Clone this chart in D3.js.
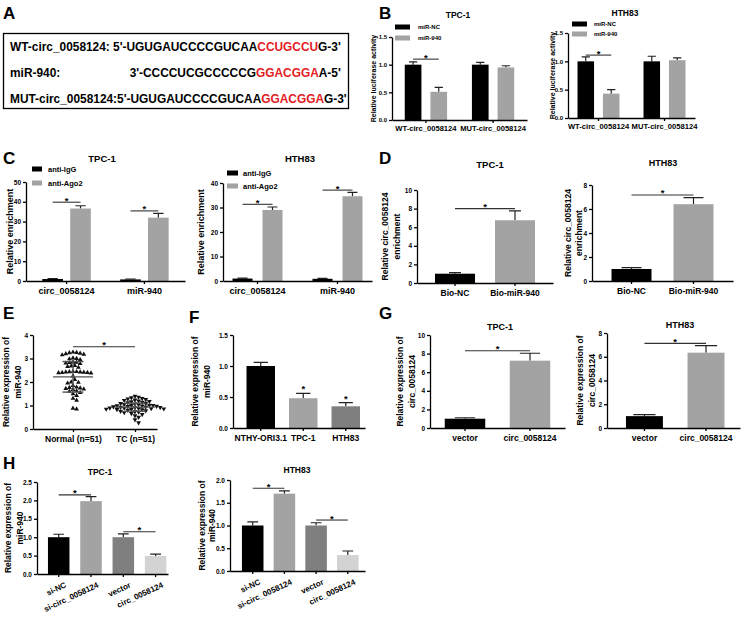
<!DOCTYPE html>
<html><head><meta charset="utf-8">
<script src="https://cdn.jsdelivr.net/npm/d3@7"></script>
<style>
body{margin:0;background:#fff}
svg text{font-family:"Liberation Sans",Arial,sans-serif;font-weight:bold}
</style>
</head><body>
<svg id="c" width="753" height="622"></svg>
<script>
// ================= DATA =================
// Panel A sequences (black / red / black)
const A_WT  = ["WT-circ_0058124: 5'-UGUGAUCCCCGUCAA", "CCUGCCU", "G-3'"];
const A_MIR_NAME = "miR-940:";
const A_MIR = ["3'-CCCCUCGCCCCCG", "GGACGGA", "A-5'"];
const A_MUT = ["MUT-circ_0058124:5'-UGUGAUCCCCGUCAA", "GGACGGA", "G-3'"];

// Panel B
const B_groups = ["WT-circ_0058124", "MUT-circ_0058124"];
const B_series = ["miR-NC", "miR-940"];
const B_TPC1_mean  = [[1.00, 0.51], [1.00, 0.95]];
const B_TPC1_err   = [[0.05, 0.08], [0.04, 0.03]];
const B_HTH83_mean = [[1.00, 0.43], [1.00, 1.02]];
const B_HTH83_err  = [[0.08, 0.07], [0.09, 0.04]];
const B_ticks = [0, 0.5, 1.0, 1.5];
const B_sig = [1.10, 1.11];

// Panel C
const C_groups = ["circ_0058124", "miR-940"];
const C_series = ["anti-IgG", "anti-Ago2"];
const C_TPC1_mean  = [[1.0, 36.6], [0.8, 32.0]];
const C_TPC1_err   = [[0.2, 1.4], [0.2, 2.2]];
const C_HTH83_mean = [[1.0, 29.0], [0.9, 34.6]];
const C_HTH83_err  = [[0.2, 1.2], [0.2, 1.6]];
const C_TPC1_ticks  = [0, 10, 20, 30, 40, 50];
const C_HTH83_ticks = [0, 10, 20, 30, 40];
const C_TPC1_sig  = [39.8, 35.4];
const C_HTH83_sig = [31.3, 37.1];

// Panel D
const D_groups = ["Bio-NC", "Bio-miR-940"];
const D_TPC1_mean  = [1.0, 6.75];
const D_TPC1_err   = [0.12, 1.0];
const D_HTH83_mean = [1.0, 6.4];
const D_HTH83_err  = [0.12, 0.55];
const D_TPC1_ticks  = [0, 2, 4, 6, 8, 10];
const D_HTH83_ticks = [0, 2, 4, 6, 8];
const D_sig = [8.0, 7.17];

// Panel E (individual samples, n=51 each)
const E_groups = ["Normal (n=51)", "TC (n=51)"];
const E_normal = [3.27,3.25,3.24,3.22,3.20,3.18,3.15,3.02,3.00,2.98,2.95,2.85,2.84,2.82,2.80,2.78,
  2.70,2.68,2.66,2.62,2.45,2.44,2.43,2.42,2.42,2.41,2.40,2.40,2.39,2.38,2.25,2.10,2.00,1.98,1.95,
  1.85,1.78,1.76,1.74,1.72,1.70,1.68,1.62,1.60,1.55,1.50,1.42,1.30,1.22,0.88,0.85];
const E_tc = [1.40,1.36,1.33,1.30,1.28,1.26,1.24,1.22,1.20,1.18,1.16,1.14,1.12,1.10,1.09,1.07,1.05,
  1.04,1.02,1.01,1.00,0.99,0.98,0.97,0.96,0.95,0.94,0.93,0.92,0.91,0.90,0.89,0.88,0.87,0.86,0.85,
  0.84,0.83,0.82,0.80,0.78,0.76,0.74,0.72,0.70,0.66,0.62,0.57,0.50,0.40,0.27];
const E_mean = [2.22, 0.93];
const E_sd   = [0.65, 0.17];
const E_ticks = [0, 1, 2, 3, 4];
const E_sig = 3.5;

// Panel F
const F_groups = ["NTHY-ORI3.1", "TPC-1", "HTH83"];
const F_mean = [1.0, 0.48, 0.35];
const F_err  = [0.06, 0.08, 0.06];
const F_star = [false, true, true];
const F_ticks = [0, 0.5, 1.0, 1.5];

// Panel G
const G_groups = ["vector", "circ_0058124"];
const G_TPC1_mean  = [1.0, 7.24];
const G_TPC1_err   = [0.1, 0.8];
const G_HTH83_mean = [1.0, 6.34];
const G_HTH83_err  = [0.12, 0.6];
const G_TPC1_ticks  = [0, 2, 4, 6, 8, 10];
const G_HTH83_ticks = [0, 2, 4, 6, 8];
const G_sig = [8.3, 7.13];

// Panel H
const H_groups = ["si-NC", "si-circ_0058124", "vector", "circ_0058124"];
const H_TPC1_mean  = [1.0, 1.98, 1.0, 0.49];
const H_TPC1_err   = [0.08, 0.12, 0.09, 0.05];
const H_HTH83_mean = [1.0, 1.70, 1.0, 0.35];
const H_HTH83_err  = [0.08, 0.06, 0.06, 0.09];
const H_TPC1_ticks  = [0, 0.5, 1.0, 1.5, 2.0, 2.5];
const H_HTH83_ticks = [0, 0.5, 1.0, 1.5, 2.0];
const H_TPC1_sig  = [2.15, 1.15];
const H_HTH83_sig = [1.82, 1.12];

// ================= DRAWING =================
const svg = d3.select("#c");
const GRAY = "#a3a3a3", DGRAY = "#7f7f7f", LGRAY = "#d3d3d3", RED = "#e3201f";

function txt(x, y, t, fs, anchor) {
  return svg.append("text").attr("x", x).attr("y", y).attr("font-size", fs)
    .attr("text-anchor", anchor || "start").text(t);
}
function styleAxis(a, fs) {
  a.attr("font-family", null).attr("font-size", null);
  a.selectAll("path,line").attr("stroke", "#000").attr("stroke-width", 1.3);
  a.selectAll("text").attr("font-size", fs).attr("fill", "#000");
}

function barChart(c) {
  const g = svg.append("g");
  const y = d3.scaleLinear().domain([0, c.ymax]).range([c.bottom, c.top]);
  const x = d3.scaleBand().domain(c.groups).range([c.left, c.right])
    .paddingInner(c.pi).paddingOuter(c.po).align(c.align == null ? 0.5 : c.align);
  const multi = !!c.series;
  const series = multi ? c.series : ["v"];
  const xi = d3.scaleBand().domain(series).range([0, x.bandwidth()]).paddingInner(c.spi || 0);
  const val = (gi, si) => multi ? c.mean[gi][si] : c.mean[gi];
  const err = (gi, si) => multi ? c.err[gi][si] : c.err[gi];
  const col = (gi, si) => multi ? c.colors[si] : c.colors[gi];
  const bw = xi.bandwidth();
  const cx = (gi, si) => x(c.groups[gi]) + xi(series[si]) + bw / 2;
  const data = [];
  c.groups.forEach((gn, gi) => series.forEach((s, si) => data.push({gi, si})));

  g.selectAll(".eb").data(data).join("path")
    .attr("d", d => {
      const xc = cx(d.gi, d.si), t = y(val(d.gi, d.si) + err(d.gi, d.si)), w = bw * (c.cap || 0.5) / 2;
      return `M${xc},${y(val(d.gi, d.si))}V${t}M${xc - w},${t}H${xc + w}`;
    })
    .attr("stroke", "#222").attr("stroke-width", 1.2).attr("fill", "none");
  g.selectAll(".bar").data(data).join("rect")
    .attr("x", d => cx(d.gi, d.si) - bw / 2).attr("width", bw)
    .attr("y", d => y(val(d.gi, d.si)))
    .attr("height", d => c.bottom - y(val(d.gi, d.si)))
    .attr("fill", d => col(d.gi, d.si));

  const ya = g.append("g").attr("transform", `translate(${c.left},0)`)
    .call(d3.axisLeft(y).tickValues(c.ticks).tickFormat(d3.format(c.fmt))
      .tickSize(3).tickPadding(2).tickSizeOuter(0));
  styleAxis(ya, c.tickFs || 6.5);
  const xa = g.append("g").attr("transform", `translate(0,${c.bottom})`)
    .call(d3.axisBottom(x).tickSize(3).tickPadding(c.xPad || 4).tickSizeOuter(0));
  styleAxis(xa, c.xFs || 8.5);
  if (c.rotate) {
    xa.selectAll("text").attr("text-anchor", "end").attr("dy", "0.35em")
      .attr("transform", `translate(4,4) rotate(${c.rotate})`);
  }

  if (c.title) txt(c.titleX, c.titleY, c.title, c.titleFs || 9, "middle");
  const mid = (c.bottom + c.top) / 2;
  c.ylab.forEach((t, i) => g.append("text")
    .attr("transform", `translate(${c.ylabX[i]},${mid}) rotate(-90)`)
    .attr("text-anchor", "middle").attr("font-size", c.ylabFs || 8.5).text(t));

  if (c.legend) {
    const L = c.legend;
    c.series.forEach((s, si) => {
      g.append("rect").attr("x", L.x).attr("y", L.ys[si] - L.sh / 2)
        .attr("width", L.sw).attr("height", L.sh).attr("fill", c.colors[si]);
      g.append("text").attr("x", L.tx).attr("y", L.ys[si] + L.fs * 0.35)
        .attr("font-size", L.fs).text(s);
    });
  }
  (c.sig || []).forEach(s => {
    const x1 = cx(s.a[0], s.a[1]), x2 = cx(s.b[0], s.b[1]), yy = y(s.y);
    g.append("line").attr("x1", x1).attr("x2", x2).attr("y1", yy).attr("y2", yy)
      .attr("stroke", "#333").attr("stroke-width", 1.1);
    g.append("text").attr("x", (x1 + x2) / 2).attr("y", yy + 1.5)
      .attr("text-anchor", "middle").attr("font-size", 9.5).text("*");
  });
  (c.stars || []).forEach((on, gi) => {
    if (!on) return;
    g.append("text").attr("x", cx(gi, 0)).attr("y", y(val(gi, 0) + err(gi, 0)) - 1)
      .attr("text-anchor", "middle").attr("font-size", 9.5).text("*");
  });
}

// ---------- Panel letters ----------
[["A", 3, 19], ["B", 379, 19], ["C", 3, 164], ["D", 379, 164], ["E", 3, 319],
 ["F", 189, 323], ["G", 379, 319], ["H", 3, 469]].forEach(([t, x, y]) => txt(x, y, t, 17));

// ---------- Panel A ----------
svg.append("rect").attr("x", 3.5).attr("y", 33.5).attr("width", 345).attr("height", 75)
  .attr("fill", "none").attr("stroke", "#000").attr("stroke-width", 1.3);
function seqLine(parts, x, y, anchor) {
  const t = svg.append("text").attr("x", x).attr("y", y).attr("font-size", 11.9)
    .attr("text-anchor", anchor || "start");
  parts.forEach((p, i) => t.append("tspan").attr("fill", i === 1 ? RED : "#000").text(p));
  return t;
}
const wt = seqLine(A_WT, 10, 51);
const wtEnd = 10 + wt.node().getComputedTextLength();
txt(10, 77, A_MIR_NAME, 11.9);
seqLine(A_MIR, wtEnd, 77, "end");
seqLine(A_MUT, 10, 103);

// ---------- Panel B ----------
barChart({groups: B_groups, series: B_series, mean: B_TPC1_mean, err: B_TPC1_err,
  colors: ["#000", GRAY], left: 392, right: 527, bottom: 120, top: 37, ymax: 1.5,
  pi: 0.37, po: 0.19, spi: 0.35, ticks: B_ticks, fmt: ".1f", tickFs: 6, xFs: 7.6, xPad: 3,
  title: "TPC-1", titleX: 458, titleY: 18, titleFs: 8.5,
  ylab: ["Relative luciferase activity"], ylabX: [376], ylabFs: 7,
  legend: {x: 395, ys: [27, 38], sw: 15, sh: 5, tx: 418, fs: 6},
  sig: [{a: [0, 0], b: [0, 1], y: B_sig[0]}]});
barChart({groups: B_groups, series: B_series, mean: B_HTH83_mean, err: B_HTH83_err,
  colors: ["#000", GRAY], left: 568, right: 695, bottom: 118, top: 33, ymax: 1.5,
  pi: 0.364, po: 0.144, spi: 0.35, ticks: B_ticks, fmt: ".1f", tickFs: 6, xFs: 7.6, xPad: 3,
  title: "HTH83", titleX: 625, titleY: 16, titleFs: 8.5,
  ylab: ["Relative luciferase activity"], ylabX: [555], ylabFs: 7,
  legend: {x: 572, ys: [24, 34], sw: 15, sh: 5, tx: 594, fs: 6},
  sig: [{a: [0, 0], b: [0, 1], y: B_sig[1]}]});

// ---------- Panel C ----------
barChart({groups: C_groups, series: C_series, mean: C_TPC1_mean, err: C_TPC1_err,
  colors: ["#000", GRAY], left: 26, right: 185, bottom: 281, top: 182, ymax: 50,
  pi: 0.377, po: 0.21, spi: 0.26, ticks: C_TPC1_ticks, fmt: "d", tickFs: 6.5, xFs: 9,
  title: "TPC-1", titleX: 102, titleY: 162, titleFs: 9.5,
  ylab: ["Relative enrichment"], ylabX: [13], ylabFs: 9,
  legend: {x: 32, ys: [169, 183], sw: 10, sh: 5, tx: 48, fs: 7.5},
  sig: [{a: [0, 0], b: [0, 1], y: C_TPC1_sig[0]}, {a: [1, 0], b: [1, 1], y: C_TPC1_sig[1]}]});
barChart({groups: C_groups, series: C_series, mean: C_HTH83_mean, err: C_HTH83_err,
  colors: ["#000", GRAY], left: 223, right: 372, bottom: 281, top: 183, ymax: 40,
  pi: 0.375, po: 0.119, spi: 0.333, ticks: C_HTH83_ticks, fmt: "d", tickFs: 6.5, xFs: 9,
  title: "HTH83", titleX: 300, titleY: 162, titleFs: 9.5,
  ylab: ["Relative enrichment"], ylabX: [204], ylabFs: 9,
  legend: {x: 227, ys: [173, 186], sw: 11, sh: 5, tx: 243, fs: 7.5},
  sig: [{a: [0, 0], b: [0, 1], y: C_HTH83_sig[0]}, {a: [1, 0], b: [1, 1], y: C_HTH83_sig[1]}]});

// ---------- Panel D ----------
barChart({groups: D_groups, mean: D_TPC1_mean, err: D_TPC1_err, colors: ["#000", GRAY],
  left: 417, right: 553, bottom: 283, top: 190, ymax: 10, pi: 0.333, po: 0.3, cap: 0.3,
  ticks: D_TPC1_ticks, fmt: "d", tickFs: 6.5, xFs: 8.5,
  title: "TPC-1", titleX: 490, titleY: 168, titleFs: 9.5,
  ylab: ["Relative circ_0058124", "enrichment"], ylabX: [388, 400], ylabFs: 8.5,
  sig: [{a: [0, 0], b: [1, 0], y: D_sig[0]}]});
barChart({groups: D_groups, mean: D_HTH83_mean, err: D_HTH83_err, colors: ["#000", GRAY],
  left: 592, right: 733, bottom: 281, top: 185, ymax: 8, pi: 0.355, po: 0.315, cap: 0.5,
  ticks: D_HTH83_ticks, fmt: "d", tickFs: 6.5, xFs: 8.5,
  title: "HTH83", titleX: 663, titleY: 166, titleFs: 9,
  ylab: ["Relative circ_0058124", "enrichment"], ylabX: [571, 582], ylabFs: 8.5,
  sig: [{a: [0, 0], b: [1, 0], y: D_sig[1]}]});

// ---------- Panel E (scatter) ----------
(function () {
  const g = svg.append("g");
  const left = 33, right = 157, bottom = 429, top = 335;
  const y = d3.scaleLinear().domain([0, 4]).range([bottom, top]);
  const x = d3.scalePoint().domain(E_groups).range([left, right]).padding(0.5).align(0.645);
  const ya = g.append("g").attr("transform", `translate(${left},0)`)
    .call(d3.axisLeft(y).tickValues(E_ticks).tickFormat(d3.format("d")).tickSize(3).tickPadding(2).tickSizeOuter(0));
  styleAxis(ya, 6.5);
  const xa = g.append("g").attr("transform", `translate(0,${bottom})`)
    .call(d3.axisBottom(x).tickSize(3).tickPadding(4).tickSizeOuter(0));
  styleAxis(xa, 8.5);

  function swarm(vals, cx) {
    const pts = vals.map(v => ({v, py: y(v)})).sort((a, b) => a.py - b.py);
    const placed = [], D = 3.6, s = 1.8;
    pts.forEach(p => {
      for (let k = 0; k < 80; k++) {
        const off = (k % 2 ? 1 : -1) * Math.ceil(k / 2) * s;
        const px = cx + off;
        if (placed.every(q => Math.hypot(q.px - px, q.py - p.py) >= D)) { p.px = px; break; }
      }
      placed.push(p);
    });
    return placed;
  }
  const sym = d3.symbol(d3.symbolTriangle, 10);
  [E_normal, E_tc].forEach((vals, i) => {
    const cx = x(E_groups[i]);
    g.selectAll(null).data(swarm(vals, cx)).join("path")
      .attr("d", sym)
      .attr("transform", d => `translate(${d.px},${d.py})${i ? " rotate(180)" : ""}`)
      .attr("fill", "#111");
    const m = E_mean[i], sd = E_sd[i];
    const lines = [[m, 20], [m + sd, 10.5], [m - sd, 10.5]];
    lines.forEach(([v, hw]) => g.append("line").attr("x1", cx - hw).attr("x2", cx + hw)
      .attr("y1", y(v)).attr("y2", y(v)).attr("stroke", "#555").attr("stroke-width", 1.4));
    g.append("line").attr("x1", cx).attr("x2", cx).attr("y1", y(m - sd)).attr("y2", y(m + sd))
      .attr("stroke", "#555").attr("stroke-width", 1.4);
  });
  const x1 = x(E_groups[0]), x2 = x(E_groups[1]), yy = y(E_sig);
  g.append("line").attr("x1", x1).attr("x2", x2).attr("y1", yy).attr("y2", yy)
    .attr("stroke", "#333").attr("stroke-width", 1.1);
  g.append("text").attr("x", (x1 + x2) / 2).attr("y", yy + 1.5).attr("text-anchor", "middle")
    .attr("font-size", 9.5).text("*");
  ["Relative expression of", "miR-940"].forEach((t, i) => g.append("text")
    .attr("transform", `translate(${[9, 21][i]},${(top + bottom) / 2}) rotate(-90)`)
    .attr("text-anchor", "middle").attr("font-size", 8.5).text(t));
})();

// ---------- Panel F ----------
barChart({groups: F_groups, mean: F_mean, err: F_err, colors: ["#000", GRAY, DGRAY],
  left: 233, right: 365, bottom: 428, top: 335, ymax: 1.5, pi: 0.33, po: 0.218, align: 0.73, cap: 0.5,
  ticks: F_ticks, fmt: ".1f", tickFs: 6.5, xFs: 8.5,
  ylab: ["Relative expression of", "miR-940"], ylabX: [198, 210], ylabFs: 8.5,
  stars: F_star});

// ---------- Panel G ----------
barChart({groups: G_groups, mean: G_TPC1_mean, err: G_TPC1_err, colors: ["#000", GRAY],
  left: 430, right: 565, bottom: 428, top: 335, ymax: 10, pi: 0.377, po: 0.227, cap: 0.5,
  ticks: G_TPC1_ticks, fmt: "d", tickFs: 6.5, xFs: 8.5,
  title: "TPC-1", titleX: 500, titleY: 330, titleFs: 9,
  ylab: ["Relative expression of", "circ_0058124"], ylabX: [403, 415], ylabFs: 8.5,
  sig: [{a: [0, 0], b: [1, 0], y: G_sig[0]}]});
barChart({groups: G_groups, mean: G_HTH83_mean, err: G_HTH83_err, colors: ["#000", GRAY],
  left: 607, right: 740, bottom: 428, top: 333, ymax: 8, pi: 0.4, po: 0.28, align: 0.55, cap: 0.6,
  ticks: G_HTH83_ticks, fmt: "d", tickFs: 6.5, xFs: 8.5,
  title: "HTH83", titleX: 680, titleY: 328, titleFs: 9,
  ylab: ["Relative expression of", "circ_0058124"], ylabX: [583, 595], ylabFs: 8.5,
  sig: [{a: [0, 0], b: [1, 0], y: G_sig[1]}]});

// ---------- Panel H ----------
barChart({groups: H_groups, mean: H_TPC1_mean, err: H_TPC1_err, colors: ["#000", GRAY, DGRAY, LGRAY],
  left: 37, right: 168, bottom: 574, top: 482, ymax: 2.5, pi: 0.334, po: 0.195, align: 0.87, cap: 0.5,
  ticks: H_TPC1_ticks, fmt: ".1f", tickFs: 6.5, xFs: 8, rotate: -25,
  title: "TPC-1", titleX: 100, titleY: 475, titleFs: 8.5,
  ylab: ["Relative expression of", "miR-940"], ylabX: [11, 23], ylabFs: 8.5,
  sig: [{a: [0, 0], b: [1, 0], y: H_TPC1_sig[0]}, {a: [2, 0], b: [3, 0], y: H_TPC1_sig[1]}]});
barChart({groups: H_groups, mean: H_HTH83_mean, err: H_HTH83_err, colors: ["#000", GRAY, DGRAY, LGRAY],
  left: 230, right: 365, bottom: 571, top: 480, ymax: 2.0, pi: 0.32, po: 0.29, align: 0.65, cap: 0.5,
  ticks: H_HTH83_ticks, fmt: ".1f", tickFs: 6.5, xFs: 8, rotate: -25,
  title: "HTH83", titleX: 297, titleY: 473, titleFs: 8.5,
  ylab: ["Relative expression of", "miR-940"], ylabX: [205, 215], ylabFs: 8.5,
  sig: [{a: [0, 0], b: [1, 0], y: H_HTH83_sig[0]}, {a: [2, 0], b: [3, 0], y: H_HTH83_sig[1]}]});
</script>
</body></html>
